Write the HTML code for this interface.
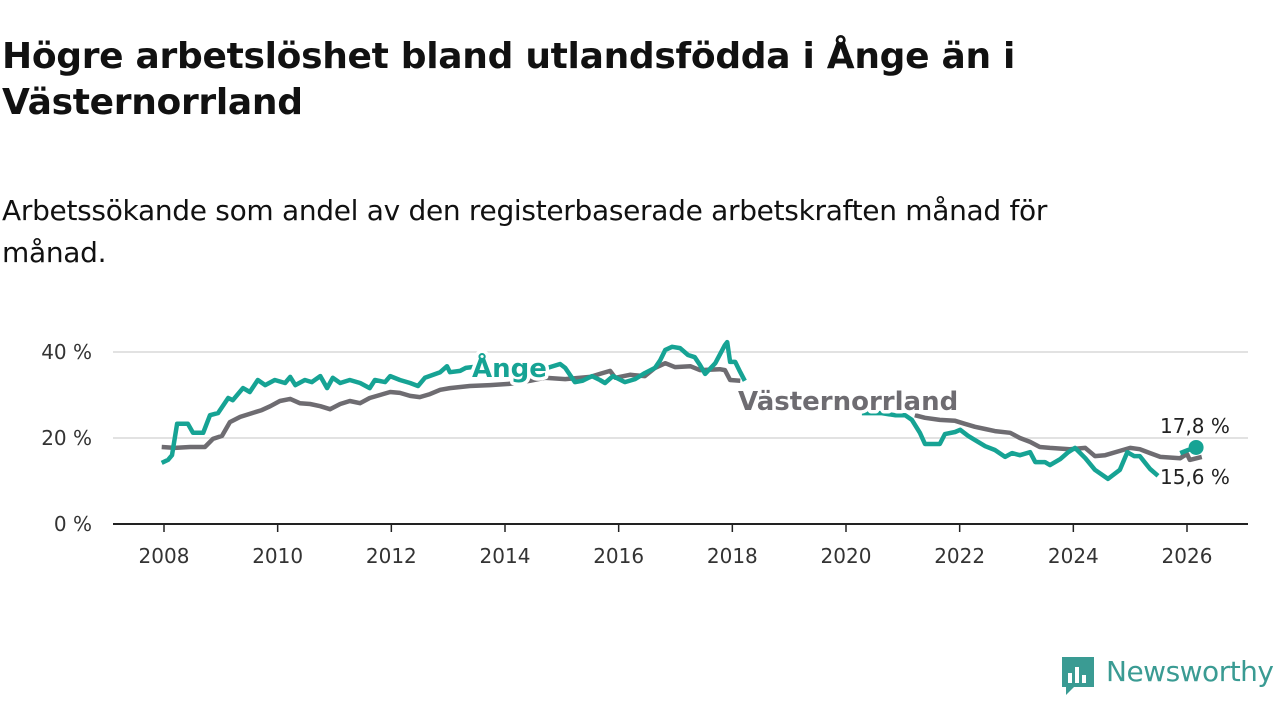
<!DOCTYPE html>
<html><head><meta charset="utf-8"><style>
body{margin:0;width:1280px;height:720px;background:#fff;overflow:hidden;font-family:"Liberation Sans","DejaVu Sans",sans-serif;color:#111}
h1{position:absolute;left:2px;top:34px;margin:0;font-size:36px;line-height:46px;font-weight:700;width:1200px;font-family:"DejaVu Sans","Liberation Sans",sans-serif;letter-spacing:-0.3px}
.sub{position:absolute;left:2px;top:190px;margin:0;font-size:28px;line-height:42px;width:1100px;font-family:"DejaVu Sans","Liberation Sans",sans-serif;font-weight:400;letter-spacing:-0.3px}
svg{position:absolute;left:0;top:0}
</style></head><body>
<h1>Högre arbetslöshet bland utlandsfödda i Ånge än i Västernorrland</h1>
<p class="sub">Arbetssökande som andel av den registerbaserade arbetskraften månad för månad.</p>
<svg id="chart" width="1280" height="720"></svg>
<div style="position:absolute;left:1060px;top:655px;width:220px;height:42px">
<svg width="36" height="42" style="left:0;top:0"><path d="M2 2h32v30H14l-8 8v-8H2z" fill="#3a9b93"/><rect x="8" y="18" width="4" height="10" fill="#fff"/><rect x="15" y="12" width="4" height="16" fill="#fff"/><rect x="22" y="20" width="4" height="8" fill="#fff"/></svg>
<span style="position:absolute;left:46px;top:0;font-size:28px;color:#3a9b93;font-family:'DejaVu Sans','Liberation Sans',sans-serif;letter-spacing:-0.5px">Newsworthy</span>
</div>
<script>
const yearTicks=[2008,2010,2012,2014,2016,2018,2020,2022,2024,2026];
const valueTicks=[0,20,40];
const angeT=[2007.96,2008.07,2008.14,2008.23,2008.42,2008.51,2008.69,2008.81,2008.95,2009.13,2009.21,2009.39,2009.51,2009.65,2009.78,2009.95,2010.13,2010.22,2010.31,2010.48,2010.60,2010.75,2010.87,2010.97,2011.10,2011.27,2011.45,2011.62,2011.71,2011.89,2011.98,2012.15,2012.33,2012.47,2012.59,2012.86,2012.98,2013.03,2013.21,2013.31,2013.56,2013.91,2014.26,2014.62,2014.97,2015.06,2015.23,2015.36,2015.53,2015.67,2015.76,2015.90,2016.11,2016.29,2016.46,2016.64,2016.73,2016.82,2016.94,2017.08,2017.22,2017.34,2017.43,2017.52,2017.70,2017.87,2017.91,2017.96,2018.05,2018.14,2018.22,2019.0,2020.28,2020.63,2020.86,2021.04,2021.16,2021.30,2021.39,2021.57,2021.65,2021.74,2021.92,2022.01,2022.15,2022.27,2022.45,2022.62,2022.80,2022.92,2023.06,2023.24,2023.33,2023.50,2023.59,2023.77,2023.91,2024.03,2024.21,2024.38,2024.61,2024.82,2024.95,2025.07,2025.17,2025.35,2025.49,2025.70,2025.88,2026.02,2026.16];
const angeV=[14.2,14.9,16.0,23.3,23.3,21.2,21.2,25.3,25.8,29.3,28.8,31.6,30.7,33.5,32.3,33.5,32.8,34.2,32.3,33.5,33.0,34.4,31.6,34.0,32.8,33.5,32.8,31.6,33.5,33.0,34.4,33.5,32.8,32.1,34.0,35.3,36.7,35.3,35.6,36.3,36.7,36.3,35.3,35.8,37.2,36.3,33.0,33.3,34.4,33.5,32.8,34.4,33.0,33.7,35.1,36.3,38.1,40.5,41.2,40.9,39.3,38.8,37.0,34.9,37.4,41.6,42.3,37.7,37.7,35.3,33.3,null,25.8,25.8,25.3,25.3,24.2,21.2,18.6,18.6,18.6,20.9,21.4,21.9,20.5,19.5,18.1,17.2,15.6,16.5,16.0,16.7,14.4,14.4,13.7,15.1,16.7,17.7,15.3,12.6,10.5,12.6,16.7,15.8,15.8,12.8,11.2,null,16.5,17.2,17.8];
const vnT=[2007.96,2008.19,2008.46,2008.72,2008.86,2009.02,2009.16,2009.34,2009.55,2009.72,2009.87,2010.04,2010.22,2010.39,2010.57,2010.75,2010.92,2011.10,2011.27,2011.45,2011.62,2011.80,2011.98,2012.15,2012.33,2012.50,2012.68,2012.86,2013.03,2013.38,2013.74,2014.09,2014.44,2014.70,2015.06,2015.50,2015.67,2015.85,2015.94,2016.20,2016.46,2016.64,2016.82,2016.99,2017.26,2017.43,2017.78,2017.87,2017.96,2018.14,2019.5,2021.21,2021.39,2021.65,2021.92,2022.09,2022.27,2022.45,2022.62,2022.89,2023.06,2023.24,2023.41,2023.59,2023.94,2024.21,2024.38,2024.56,2024.82,2025.00,2025.17,2025.35,2025.53,2025.88,2026.00,2026.05,2026.26];
const vnV=[17.9,17.7,17.9,17.9,19.8,20.5,23.7,24.9,25.8,26.5,27.4,28.6,29.1,28.1,27.9,27.4,26.7,27.9,28.6,28.1,29.3,30.0,30.7,30.5,29.8,29.5,30.2,31.2,31.6,32.1,32.3,32.6,33.3,34.0,33.7,34.2,34.9,35.6,34.0,34.7,34.4,36.3,37.4,36.5,36.7,35.8,36.0,35.8,33.5,33.3,null,25.3,24.7,24.2,24.0,23.3,22.6,22.1,21.6,21.2,20.0,19.1,17.9,17.7,17.4,17.7,15.8,16.0,17.0,17.7,17.4,16.5,15.6,15.3,16.3,14.9,15.6];
const NS='http://www.w3.org/2000/svg';
const svg=document.getElementById('chart');
const x=t=>164+(t-2008)*(1187-164)/18;
const y=v=>524-v*4.3;
function mk(tag,attrs,parent){const e=document.createElementNS(NS,tag);for(const k in attrs)e.setAttribute(k,attrs[k]);(parent||svg).appendChild(e);return e;}
valueTicks.forEach(v=>{
  if(v>0){const g=mk('line',{x1:113,x2:1248,y1:y(v),y2:y(v),stroke:'#d9d9d9','stroke-width':1.5});
  
  }
  const t=mk('text',{x:92,y:y(v)+7,'text-anchor':'end','font-size':20,fill:'#333','font-family':'DejaVu Sans, Liberation Sans, sans-serif'});
  t.textContent=v+' %';
  
  
});
const ax=mk('line',{x1:113,x2:1248,y1:524,y2:524,stroke:'#222','stroke-width':2});


yearTicks.forEach(yr=>{
  const tk=mk('line',{x1:x(yr),x2:x(yr),y1:524,y2:532,stroke:'#222','stroke-width':1.5});
  
  
  const t=mk('text',{x:x(yr),y:563,'text-anchor':'middle','font-size':20,fill:'#333','font-family':'DejaVu Sans, Liberation Sans, sans-serif'});
  t.textContent=yr;
  
  
});
function path(T,V){let d='',pen=false;T.forEach((t,i)=>{if(V[i]==null){pen=false;return;}d+=(pen?'L':'M')+x(t).toFixed(1)+','+y(V[i]).toFixed(1);pen=true;});return d;}
const lv=mk('path',{d:path(vnT,vnV),fill:'none',stroke:'#6e6c71','stroke-width':4.5,'stroke-linejoin':'round'});


const la=mk('path',{d:path(angeT,angeV),fill:'none',stroke:'#16a394','stroke-width':4.5,'stroke-linejoin':'round'});


const dot=mk('circle',{cx:x(angeT[angeT.length-1]),cy:y(angeV[angeV.length-1]),r:7.5,fill:'#16a394'});


function lbl(txt,px,py,col,name,bold,size){const t=mk('text',{x:px,y:py,'font-size':size,fill:col,'font-weight':bold?700:400,stroke:'#fff','stroke-width':bold?7:4,'paint-order':'stroke','stroke-linejoin':'round','font-family':'DejaVu Sans, Liberation Sans, sans-serif'});t.textContent=txt;

}
lbl('Ånge',472,377,'#16a394','ange-label',true,26);
lbl('Västernorrland',738,410,'#6e6c71','vasternorrland-label',true,26);
lbl('17,8 %',1160,433,'#222','ange-end-value',false,20);
lbl('15,6 %',1160,484,'#222','vasternorrland-end-value',false,20);
</script>
</body></html>
